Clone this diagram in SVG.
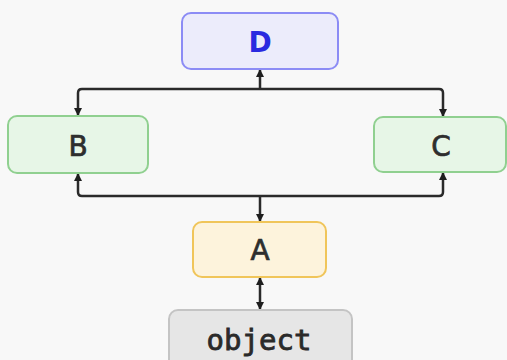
<svg xmlns="http://www.w3.org/2000/svg" width="507" height="360" viewBox="0 0 507 360">
<defs>
<style>
.lbl{font-family:"DejaVu Sans","Liberation Sans",sans-serif;font-size:28px;text-anchor:middle;dominant-baseline:central;fill:#2e2e2e;stroke:#2e2e2e;stroke-width:0.7}
.mono{font-family:"DejaVu Sans Mono","Liberation Mono",monospace;font-size:29px;text-anchor:middle;fill:#2a2a2a;stroke:#2a2a2a;stroke-width:0.8}
.edge{fill:none;stroke:#2a2a2a;stroke-width:2.5}
.green{fill:#e7f6e7;stroke:#90d090;stroke-width:2}
</style>
<marker id="arr" viewBox="0 0 10 10" refX="10" refY="5" markerUnits="userSpaceOnUse" markerWidth="9" markerHeight="8" orient="auto-start-reverse">
<path d="M0,0 L10,5 L0,10 z" fill="#1e1e1e"/>
</marker>
</defs>
<rect width="507" height="360" fill="#f8f8f8"/>
<g id="connectors">
<path class="edge" d="M78,116 V93 Q78,89 82,89 H439 Q443,89 443,93 V117" marker-start="url(#arr)" marker-end="url(#arr)"/>
<path class="edge" d="M260,89 V69" marker-end="url(#arr)"/>
<path class="edge" d="M78,173 V192 Q78,196 82,196 H439 Q443,196 443,192 V172" marker-start="url(#arr)" marker-end="url(#arr)"/>
<path class="edge" d="M260,196 V222" marker-end="url(#arr)"/>
<path class="edge" d="M260,277 V310" marker-start="url(#arr)" marker-end="url(#arr)"/>
</g>
<g id="D">
<rect x="182" y="13" width="156" height="56" rx="9" fill="#ececfb" stroke="#8c8cf5" stroke-width="2"/>
<text class="lbl" x="260" y="42" style="fill:#2a2ae0;stroke:none;font-weight:bold">D</text>
</g>
<g id="B">
<rect class="green" x="8" y="116" width="140" height="57" rx="9"/>
<text class="lbl" x="78" y="146">B</text>
</g>
<g id="C">
<rect class="green" x="374" y="117" width="132" height="55" rx="9"/>
<text class="lbl" x="441" y="146">C</text>
</g>
<g id="A">
<rect x="193" y="222" width="133" height="55" rx="9" fill="#fdf3dc" stroke="#f0c55a" stroke-width="2"/>
<text class="lbl" x="260" y="250">A</text>
</g>
<g id="object">
<rect x="169" y="310" width="183" height="62" rx="9" fill="#e6e6e6" stroke="#c4c4c4" stroke-width="2"/>
<text class="mono" x="259" y="350">object</text>
</g>
</svg>
